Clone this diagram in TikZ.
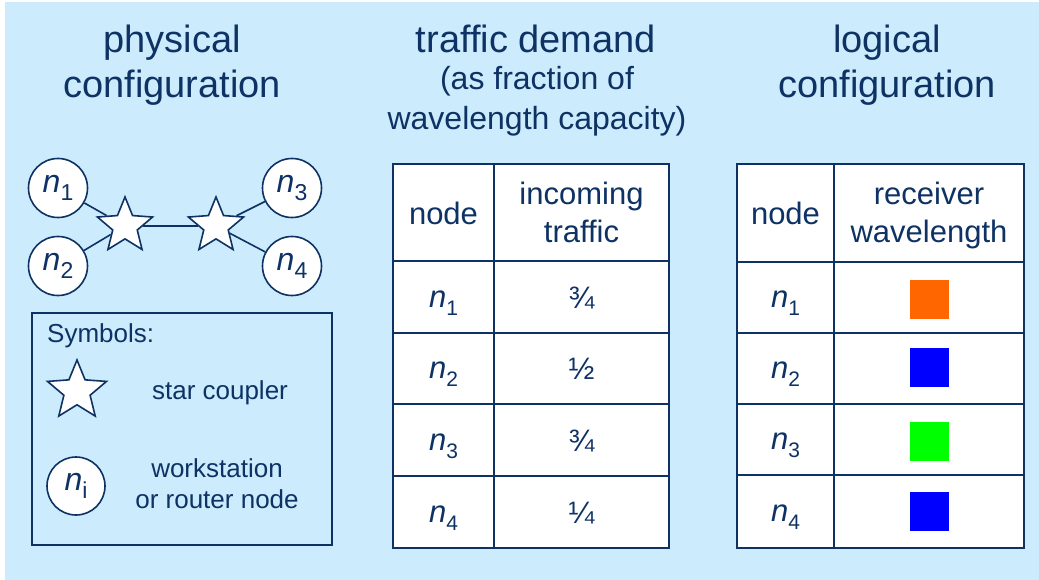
\documentclass[tikz,border=0pt]{standalone}
\usepackage{fontspec}
\setmainfont{Liberation Sans}
\usetikzlibrary{shapes.geometric}
\definecolor{bg}{RGB}{204,235,252}
\definecolor{ink}{RGB}{14,50,100}
\definecolor{lamA}{RGB}{255,102,0}
\definecolor{lamB}{RGB}{0,0,255}
\definecolor{lamC}{RGB}{0,255,0}
\newcommand{\fsz}[1]{\fontsize{#1}{#1}\selectfont}
\newcommand{\ntab}[1]{{\fsz{31}\itshape n}\raisebox{-8pt}{\fsz{21}#1}}
\newcommand{\ncirc}[1]{{\fsz{32}\itshape n}\raisebox{-8pt}{\fsz{23}#1}}
\tikzset{
  txt/.style={text=ink, inner sep=0pt, anchor=base},
  title/.style={txt, font=\fsz{38}},
  subtitle/.style={txt, font=\fsz{32}},
  cell/.style={txt, font=\fsz{31}},
  sym/.style={txt, font=\fsz{26}},
  wsnode/.style={circle, draw=ink, fill=white, line width=1.6pt, minimum size=59pt, inner sep=0pt, text=ink},
  coupler/.style={star, star points=5, star point ratio=2.25, draw=ink, fill=white, line width=1.6pt, minimum size=58pt, inner sep=0pt},
  link/.style={draw=ink, line width=1.6pt},
  grid/.style={draw=ink, line width=2pt},
  swatch/.style={minimum size=39pt, inner sep=0pt, draw=none}
}
\begin{document}
\begin{tikzpicture}[x=1pt,y=-1pt]
\useasboundingbox (0,0) rectangle (1039,580);
\fill[bg] (5,2) rectangle (1039,580);

% titles
\node[title] (t1a) at (172,53) {physical};
\node[title] (t1b) at (172,98) {configuration};
\node[title] (t2a) at (536,53) {traffic demand};
\node[subtitle] (t2b) at (537,90) {(as fraction of};
\node[subtitle] (t2c) at (537,130) {wavelength capacity)};
\node[title] (t3a) at (887,53) {logical};
\node[title] (t3b) at (887,98) {configuration};

% physical configuration
\node[wsnode] (n1) at (58,188) {\ncirc{1}};
\node[wsnode] (n2) at (58,266) {\ncirc{2}};
\node[wsnode] (n3) at (292,188) {\ncirc{3}};
\node[wsnode] (n4) at (292,266) {\ncirc{4}};
\node[coupler] (s1) at (125,226) {};
\node[coupler] (s2) at (216,226) {};
\draw[link] (n1) -- (s1);
\draw[link] (n2) -- (s1);
\draw[link] (s1) -- (s2);
\draw[link] (s2) -- (n3);
\draw[link] (s2) -- (n4);

% symbols box
\draw[draw=ink, line width=1.5pt] (32,313) rectangle (332,545);
\node[sym, anchor=base west] (symt) at (47,342) {Symbols:};
\node[coupler, minimum size=62pt] (symstar) at (77,391) {};
\node[sym] (symstart) at (220,399) {star coupler};
\node[wsnode, minimum size=58pt] (symnode) at (76,486) {\ncirc{i}};
\node[sym] (symnt1) at (217,477) {workstation};
\node[sym] (symnt2) at (217,508) {or router node};

% traffic table
\filldraw[fill=white, grid] (393,164) rectangle (669,548);
\draw[grid] (494,164) -- (494,548);
\foreach \yy in {261,333,404,476} \draw[grid] (393,\yy) -- (669,\yy);
\node[cell] (h1) at (443.5,225) {node};
\node[cell] (h2a) at (581.5,205) {incoming};
\node[cell] (h2b) at (581.5,243) {traffic};
\node[cell] (r1) at (443.5,307) {\ntab{1}};
\node[cell] (r2) at (443.5,378.5) {\ntab{2}};
\node[cell] (r3) at (443.5,450) {\ntab{3}};
\node[cell] (r4) at (443.5,522) {\ntab{4}};
\node[cell] (f1) at (581.5,308) {¾};
\node[cell] (f2) at (581.5,379.5) {½};
\node[cell] (f3) at (581.5,451) {¾};
\node[cell] (f4) at (581.5,523) {¼};

% logical table
\filldraw[fill=white, grid] (737,164) rectangle (1024,548);
\draw[grid] (834,164) -- (834,548);
\foreach \yy in {262,333,404,475} \draw[grid] (737,\yy) -- (1024,\yy);
\node[cell] (g1) at (785.5,225) {node};
\node[cell] (g2a) at (929,205) {receiver};
\node[cell] (g2b) at (929,243) {wavelength};
\node[cell] (q1) at (785.5,307) {\ntab{1}};
\node[cell] (q2) at (785.5,378.5) {\ntab{2}};
\node[cell] (q3) at (785.5,449.5) {\ntab{3}};
\node[cell] (q4) at (785.5,521.5) {\ntab{4}};
\node[swatch, fill=lamA] (w1) at (929.5,299.5) {};
\node[swatch, fill=lamB] (w2) at (929.5,367.5) {};
\node[swatch, fill=lamC] (w3) at (929.5,441.5) {};
\node[swatch, fill=lamB] (w4) at (929.5,511.5) {};
\end{tikzpicture}
\end{document}
